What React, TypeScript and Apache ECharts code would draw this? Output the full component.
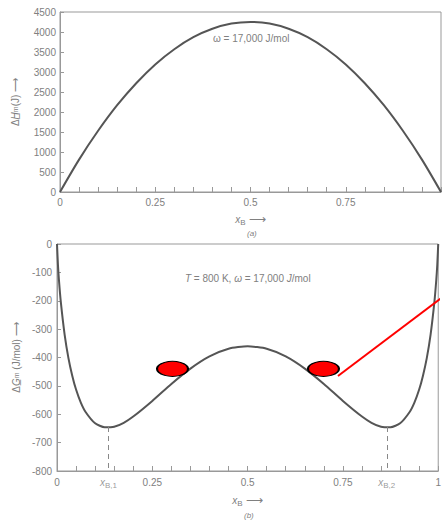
import React, { useEffect, useRef } from "react";
import * as echarts from "echarts";

// (a) enthalpy of mixing
const xH = [0, 0.05, 0.1, 0.15, 0.2, 0.25, 0.3, 0.35, 0.4, 0.45, 0.5, 0.55, 0.6, 0.65, 0.7, 0.75, 0.8, 0.85, 0.9, 0.95, 1];
const dH = [0, 810, 1530, 2170, 2720, 3190, 3570, 3870, 4080, 4210, 4250, 4210, 4080, 3870, 3570, 3190, 2720, 2170, 1530, 810, 0];

// (b) Gibbs energy of mixing
const xG = [0, 0.0025, 0.005, 0.01, 0.02, 0.03, 0.04, 0.05, 0.0625, 0.075, 0.1, 0.125, 0.15, 0.175, 0.2, 0.25, 0.3, 0.35, 0.4, 0.45, 0.5,
  0.55, 0.6, 0.65, 0.7, 0.75, 0.8, 0.825, 0.85, 0.875, 0.9, 0.925, 0.9375, 0.95, 0.96, 0.97, 0.98, 0.99, 0.995, 0.9975, 1];
const dG = [0, -74, -125, -204, -319, -402, -464, -513, -559, -592, -632, -646, -644, -630, -608, -553, -493, -439, -396, -369, -360,
  -369, -396, -439, -493, -553, -608, -630, -644, -646, -632, -592, -559, -513, -464, -402, -319, -204, -125, -74, 0];

const xTickLabels = [0, 0.25, 0.5, 0.75, 1];
const xB = [0.135, 0.865];
const xBMin = [-645, -645];
const xBNames = ["B,1", "B,2"];
const ellipses = [[0.303, -440], [0.699, -440]];
const redLine = [[0.737, -465], [1.01, -188]];

const FONT = "Liberation Sans";
const TXT = "#808080";
const AX = "#999";
const CURVE = "#555";

function fmtX(hideOne: boolean) {
  return (v: number) => {
    for (const t of xTickLabels) {
      if (Math.abs(v - t) < 1e-6) {
        if (hideOne && t === 1) return "";
        return String(t);
      }
    }
    return "";
  };
}

export default function App() {
  const ref = useRef<HTMLDivElement>(null);
  useEffect(() => {
    if (!ref.current) return;
    const chart = echarts.init(ref.current, undefined, { renderer: "svg" });
    const xAxisCommon = {
      type: "value",
      min: 0,
      max: 1,
      interval: 0.05,
      axisLine: { show: true, onZero: false, lineStyle: { color: AX, width: 1 } },
      axisTick: { show: true, inside: true, interval: 0, length: 5, lineStyle: { color: AX } },
      splitLine: { show: false },
      nameLocation: "middle",
      nameTextStyle: {
        color: TXT,
        fontFamily: FONT,
        rich: {
          i: { fontStyle: "italic", fontSize: 10, color: TXT, fontFamily: FONT },
          s: { fontSize: 8, color: TXT, fontFamily: FONT, padding: [6, 0, 0, 0] },
          a: { fontSize: 12, color: TXT, fontFamily: FONT },
        },
      },
    };
    const yRich = {
      a: { fontSize: 10, color: TXT, fontFamily: FONT },
      u: { fontSize: 10, color: TXT, fontFamily: FONT, fontStyle: "italic" },
      s: { fontSize: 7, color: TXT, fontFamily: FONT },
    };
    const yLabel = { color: TXT, fontSize: 10, fontFamily: FONT, formatter: (v: number) => String(v) };
    const option: any = {
      animation: false,
      textStyle: { fontFamily: FONT },
      grid: [
        { left: 60, right: 1, top: 12, height: 180, show: true, borderColor: AX, borderWidth: 1 },
        { left: 57, right: 3, top: 244, height: 227, show: true, borderColor: AX, borderWidth: 1 },
      ],
      xAxis: [
        {
          ...xAxisCommon,
          gridIndex: 0,
          axisLabel: { interval: 0, color: TXT, fontSize: 10, fontFamily: FONT, margin: 5, formatter: fmtX(true) },
          name: "{i|x}{s|B} {a|⟶}",
          nameGap: 20,
        },
        {
          ...xAxisCommon,
          gridIndex: 1,
          axisLabel: { interval: 0, color: TXT, fontSize: 10, fontFamily: FONT, margin: 6, formatter: fmtX(false) },
          name: "{i|x}{s|B} {a|⟶}",
          nameGap: 22,
        },
      ],
      yAxis: [
        {
          type: "value",
          gridIndex: 0,
          min: 0,
          max: 4500,
          interval: 500,
          axisLine: { show: true, onZero: false, lineStyle: { color: AX } },
          axisTick: { show: true, inside: true, length: 4, lineStyle: { color: AX } },
          splitLine: { show: false },
          axisLabel: { ...yLabel, margin: 4 },
          name: "{a|Δ}{u|H̲}{s|m}{a|(J) ⟶}",
          nameLocation: "middle",
          nameRotate: 90,
          nameGap: 40,
          nameTextStyle: { rich: yRich },
        },
        {
          type: "value",
          gridIndex: 1,
          min: -800,
          max: 0,
          interval: 100,
          axisLine: { show: true, onZero: false, lineStyle: { color: AX } },
          axisTick: { show: true, inside: true, length: 4, lineStyle: { color: AX } },
          splitLine: { show: false },
          axisLabel: { ...yLabel, margin: 5 },
          name: "{a|Δ}{u|G̲}{s|m}{a| (J/mol) ⟶}",
          nameLocation: "middle",
          nameRotate: 90,
          nameGap: 36,
          nameTextStyle: { rich: yRich },
        },
      ],
      series: [
        {
          type: "line",
          xAxisIndex: 0,
          yAxisIndex: 0,
          data: xH.map((x, i) => [x, dH[i]]),
          smooth: 0.3,
          symbol: "none",
          lineStyle: { color: CURVE, width: 2 },
        },
        {
          type: "line",
          xAxisIndex: 1,
          yAxisIndex: 1,
          data: xG.map((x, i) => [x, dG[i]]),
          smooth: 0.2,
          symbol: "none",
          lineStyle: { color: CURVE, width: 2 },
          markLine: {
            silent: true,
            symbol: "none",
            label: { show: false },
            lineStyle: { color: "#888", type: [5, 4], width: 1 },
            data: xB.map((x, i) => [{ coord: [x, xBMin[i]] }, { coord: [x, -800] }]),
          },
        },
        {
          type: "scatter",
          xAxisIndex: 1,
          yAxisIndex: 1,
          symbolSize: 0,
          data: xB.map((x) => [x, -800]),
          label: {
            show: true,
            position: "bottom",
            distance: 5,
            formatter: (p: any) => `{i|x}{s|${xBNames[p.dataIndex]}}`,
            rich: {
              i: { fontStyle: "italic", fontSize: 10, color: TXT, fontFamily: FONT },
              s: { fontSize: 8, color: TXT, fontFamily: FONT, padding: [5, 0, 0, 0] },
            },
          },
        },
        {
          type: "line",
          xAxisIndex: 1,
          yAxisIndex: 1,
          data: redLine,
          clip: false,
          symbol: "none",
          lineStyle: { color: "#ff0000", width: 2 },
          z: 5,
        },
        {
          type: "scatter",
          xAxisIndex: 1,
          yAxisIndex: 1,
          data: ellipses,
          symbol: "circle",
          symbolSize: [31, 15],
          itemStyle: { color: "#ff0000", borderColor: "#000", borderWidth: 1.5, opacity: 1 },
          z: 6,
        },
      ],
      graphic: [
        {
          type: "text",
          left: 213,
          top: 33,
          style: { text: "ω = 17,000 J/mol", fill: TXT, fontSize: 10, fontFamily: FONT },
        },
        {
          type: "text",
          left: 185,
          top: 273,
          style: {
            text: "{i|T} = 800 K, {i|ω} = 17,000 {i|J}/mol",
            fill: TXT,
            fontSize: 10,
            fontFamily: FONT,
            rich: { i: { fontStyle: "italic", fontSize: 10, fill: TXT, fontFamily: FONT } },
          },
        },
        {
          type: "text",
          left: 247,
          top: 229,
          style: { text: "(a)", fill: TXT, fontSize: 8, fontStyle: "italic", fontFamily: FONT },
        },
        {
          type: "text",
          left: 244,
          top: 511,
          style: { text: "(b)", fill: TXT, fontSize: 8, fontStyle: "italic", fontFamily: FONT },
        },
      ],
    };
    chart.setOption(option);
    return () => chart.dispose();
  }, []);
  return (
    <div
      ref={ref}
      style={{ position: "absolute", left: 0, top: 0, width: 444, height: 521, background: "#fff" }}
    />
  );
}
